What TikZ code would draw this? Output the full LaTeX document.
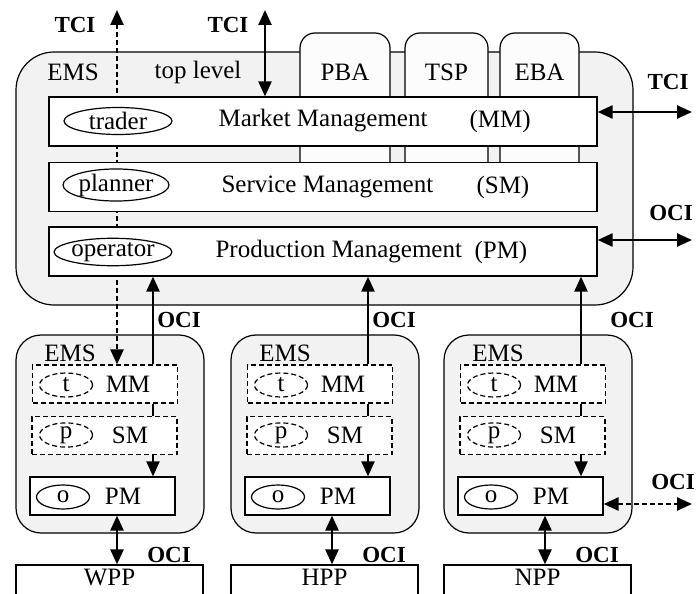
\documentclass[tikz,border=0pt]{standalone}
\usepackage{fontspec}
\setmainfont{Liberation Serif}
\usetikzlibrary{arrows.meta, shapes.geometric}

\begin{document}
\begin{tikzpicture}[
    x=1pt, y=-1pt,
    >={Triangle[width=13pt,length=15pt]},
    every node/.style={font=\fontsize{25}{29}\selectfont},
    emsbox/.style={draw, line width=1.2pt, fill=black!5, rounded corners=#1},
    tabbox/.style={draw, line width=1.2pt, fill=black!1, rounded corners=15pt},
    rowbox/.style={draw, line width=1.2pt, fill=white, minimum width=548pt, minimum height=49pt},
    unitbox/.style={draw, line width=1.2pt, fill=white, minimum width=145pt, minimum height=38pt},
    plantbox/.style={draw, line width=1.2pt, fill=white, minimum width=187pt, minimum height=50pt},
    role/.style={ellipse, draw, line width=1.2pt, inner sep=0pt, minimum width=#1, minimum height=27pt},
    smallrole/.style={ellipse, draw, line width=1.2pt, inner sep=0pt, minimum width=53pt, minimum height=24pt},
    dashline/.style={dash pattern=on 5pt off 3pt},
    link/.style={line width=2.5pt},
    iface/.style={font=\fontsize{23}{27}\selectfont\bfseries}
  ]
  \clip (0,0) rectangle (697,594);

  % top level EMS with its agents
  \node[emsbox=38pt, minimum width=617pt, minimum height=253pt] (ems) at (324.5,178.5) {};
  \node (emsname) at (73,72) {EMS};
  \node (toplevel) at (198,72) {top level};
  \foreach \name/\x/\w in {PBA/345/90, TSP/446.5/83, EBA/539.5/79} {
    \draw[tabbox] (\x-\w/2,162) -- (\x-\w/2,33) -- (\x+\w/2,33) -- (\x+\w/2,162);
    \node (\name) at (\x,72) {\name};
  }

  % EMS of the plants
  \foreach \o/\n/\pp in {0/1/WPP, 215/2/HPP, 428/3/NPP} {
    \node[emsbox=25pt, minimum width=188pt, minimum height=198pt] (ems\n) at (110+\o,434) {};
    \node (emsname\n) at (70+\o,353) {EMS};
    \node[unitbox, dashline] (mm\n) at (105+\o,384) {};
    \node[smallrole, dashline] (t\n) at (66+\o,385) {t};
    \node (mmname\n) at (128+\o,384) {MM};
    \node[unitbox, dashline] (sm\n) at (104.5+\o,435.5) {};
    \node[smallrole, dashline] (p\n) at (66+\o,435) {p};
    \node (smname\n) at (130+\o,435) {SM};
    \node[unitbox] (pm\n) at (102.5+\o,496) {};
    \node[smallrole] (o\n) at (63+\o,497) {o};
    \node (pmname\n) at (123+\o,496) {PM};
    \node[plantbox, label={[anchor=north, inner sep=5pt]north:\pp}] (plant\n) at (109.5+\o,590) {};
  }

  % trader link to the top
  \coordinate (tcia) at (117,10);
  \draw[link, dashline, <->] (tcia) -- (tcia |- mm1.north);

  % management layers
  \node[rowbox] (mmrow) at (323,121.5) {};
  \node[role=108pt] (trader) at (118,121) {trader};
  \node[anchor=west] (mmtext) at (215,121) {Market Management};
  \node[anchor=west] (mmshort) at (466,121) {(MM)};
  \node[rowbox] (smrow) at (323,187) {};
  \node[role=106pt] (planner) at (116,185) {planner};
  \node[anchor=west] (smtext) at (218,187) {Service Management};
  \node[anchor=west] (smshort) at (473,187) {(SM)};
  \node[rowbox] (pmrow) at (323,251.5) {};
  \node[role=107pt] (operator) at (113,252) {operator};
  \node[anchor=west] (pmtext) at (212,252) {Production Management};
  \node[anchor=west] (pmshort) at (471,252) {(PM)};

  % interfaces
  \foreach \o/\n/\lx in {0/1/179, 215/2/394, 428/3/632} {
    \coordinate (up\n) at (153+\o,0);
    \coordinate (down\n) at (117+\o,0);
    \draw[link, ->] (up\n |- mm\n.north) -- (up\n |- pmrow.south);
    \draw[line width=2pt] (up\n |- mm\n.south) -- (up\n |- sm\n.north);
    \draw[line width=2pt, ->] (up\n |- sm\n.south) -- (up\n |- pm\n.north);
    \draw[link, <->] (down\n |- pm\n.south) -- (down\n |- plant\n.north);
    \node[iface] (oci\n) at (\lx,320) {OCI};
    \node[iface] (ociplant\n) at (169+\o,555) {OCI};
  }

  \coordinate (tcib) at (265,10);
  \draw[link, <->] (tcib) -- (tcib |- mmrow.north);
  \coordinate (tcic) at (692,112);
  \draw[link, <->] (mmrow.east |- tcic) -- (tcic);
  \coordinate (ocia) at (692,240);
  \draw[link, <->] (pmrow.east |- ocia) -- (ocia);
  \coordinate (ocib) at (692,504);
  \draw[link, dashline, <->] (pm3.east |- ocib) -- (ocib);

  \node[iface] (tcilabela) at (75,25) {TCI};
  \node[iface] (tcilabelb) at (228,25) {TCI};
  \node[iface] (tcilabelc) at (668,82) {TCI};
  \node[iface] (ocilabela) at (671,213) {OCI};
  \node[iface] (ocilabelb) at (673,482) {OCI};
\end{tikzpicture}
\end{document}
